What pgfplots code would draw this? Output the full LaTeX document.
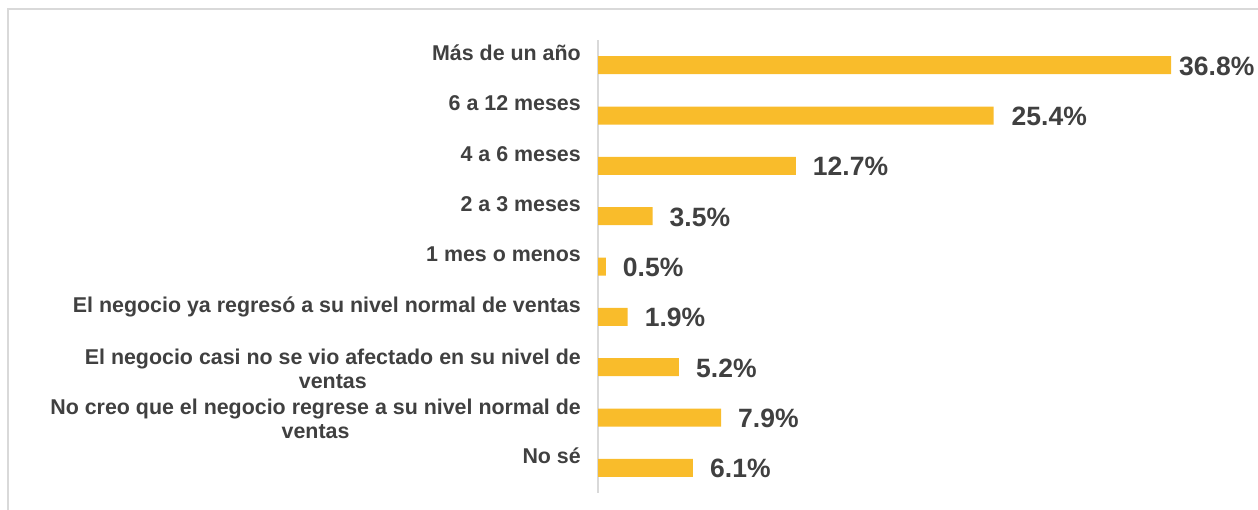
\documentclass[border=0pt]{standalone}
\usepackage{pgfplots}
\usepackage{pgfplotstable}
\pgfplotsset{compat=1.18}
\usepackage{fontspec}
\setmainfont{Liberation Sans}
\definecolor{barc}{RGB}{249,188,43}
\definecolor{txt}{RGB}{64,64,64}
\definecolor{framec}{RGB}{217,217,217}
\newcommand{\el}{\rule[-4pt]{0pt}{4pt}}
\pgfplotstableread{
y x lab dx
0 36.8 36.8 8
1 25.4 25.4 18
2 12.7 12.7 17
3 3.5 3.5 17
4 0.5 0.5 17
5 1.9 1.9 17
6 5.2 5.2 17
7 7.9 7.9 17
8 6.1 6.1 17
}\data
\begin{document}
\begin{tikzpicture}[x=1pt,y=1pt]
\useasboundingbox (0,0) rectangle (1258,510);
\draw[framec, line width=2pt] (8,-5) -- (8,501) -- (1265,501);
\begin{axis}[
  at={(598pt,17pt)}, anchor=south west,
  scale only axis, width=654pt, height=453pt,
  xmin=0, xmax=42, ymin=-0.5, ymax=8.5, y dir=reverse,
  xbar, bar width=18pt,
  axis x line=none, axis y line*=left,
  y axis line style={draw=framec, line width=2pt, -},
  xtick=\empty,
  ytick={0,...,8},
  yticklabels={{Más de un año\\\el},{6 a 12 meses\\\el},{4 a 6 meses\\\el},{2 a 3 meses\\\el},{1 mes o menos\\\el},{El negocio ya regresó a su nivel normal de ventas\\\el},{El negocio casi no se vio afectado en su nivel de\\ventas},{No creo que el negocio regrese a su nivel normal de\\ventas},{No sé\\\el}},
  major tick length=0pt,
  yticklabel style={font=\fontsize{21.4}{23.5}\selectfont\bfseries, text=txt, align=center, inner sep=0pt, xshift=-17pt, yshift=-1.5pt},
  clip=false,
]
\addplot[fill=barc, draw=none,
  point meta=explicit symbolic,
  visualization depends on={\thisrow{dx}\as\dx},
  nodes near coords={\pgfplotspointmeta\%},
  nodes near coords style={anchor=west, inner sep=0pt, xshift=\dx pt, yshift=-1pt, font=\fontsize{26.5}{30}\selectfont\bfseries, text=txt},
] table[x=x, y=y, meta=lab] {\data};
\end{axis}
\end{tikzpicture}
\end{document}
